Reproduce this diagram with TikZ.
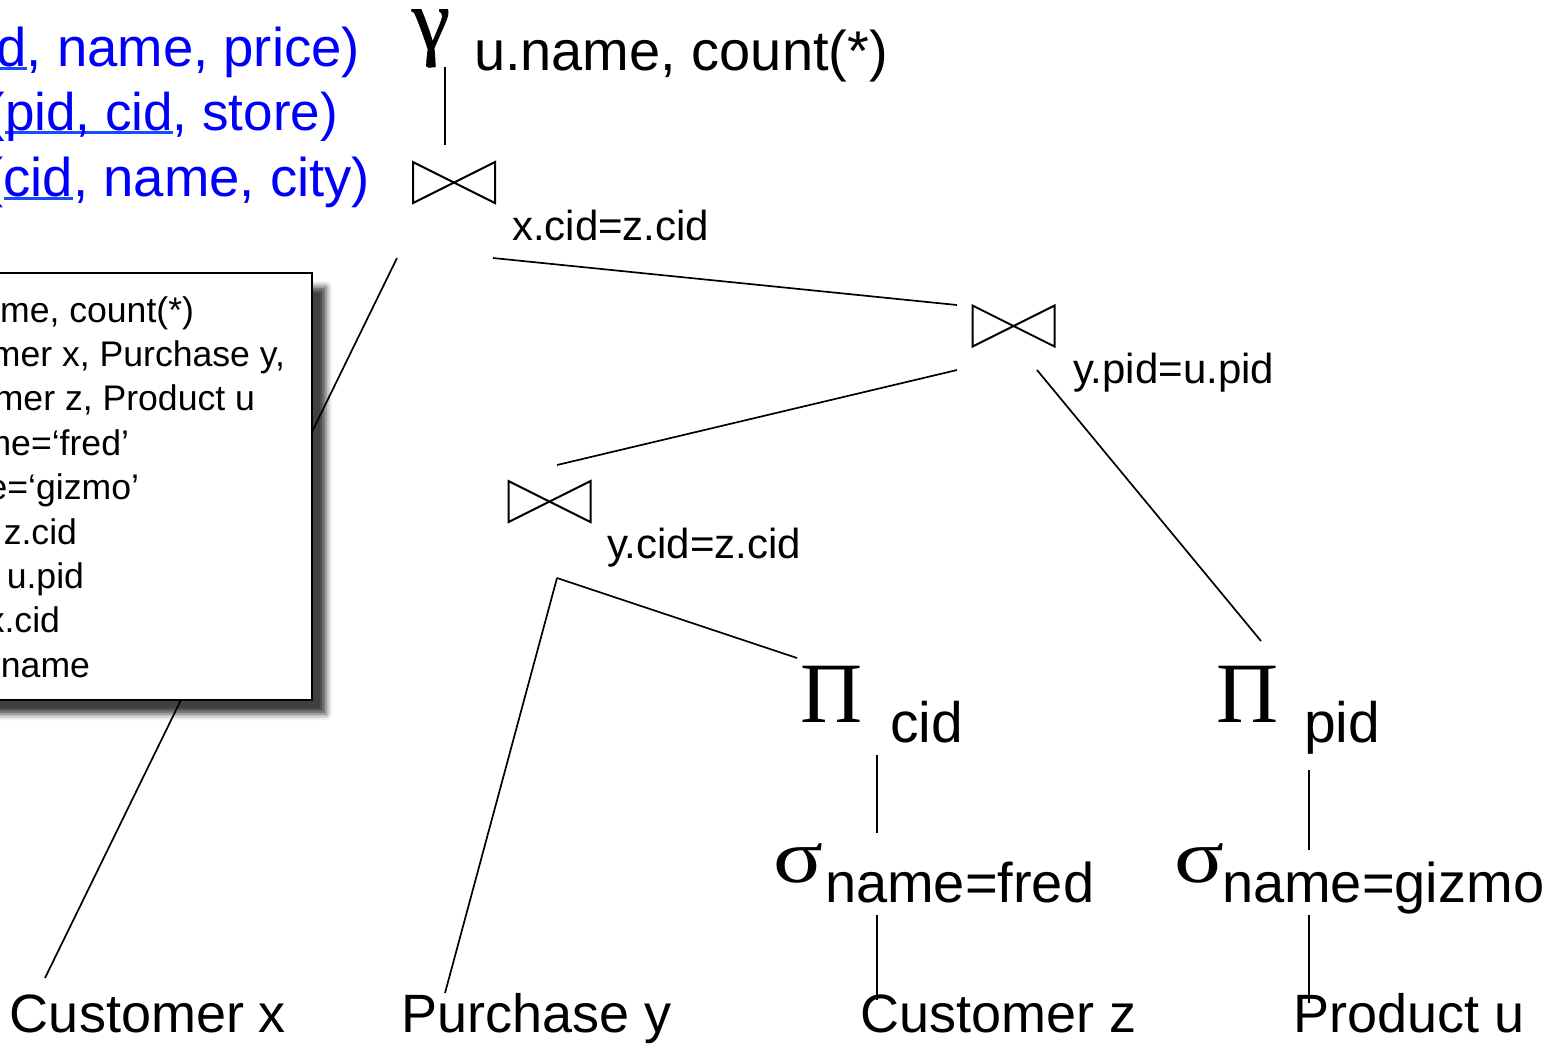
\documentclass[tikz,border=0pt]{standalone}
\usepackage{fontspec}
\usepackage{graphicx}
\setmainfont{Liberation Sans}
\newfontfamily\grkfont{Liberation Serif}
\newfontfamily\grkboldfont[FakeBold=0.9]{Liberation Serif}
\usetikzlibrary{shadows.blur}
\definecolor{schemablue}{RGB}{0,0,250}
\definecolor{keyline}{RGB}{25,75,255}
% underline for key attributes
\newcommand\keyul[1]{{\setbox0\hbox{#1}\rlap{\color{keyline}\rule[-2.2pt]{\wd0}{1.5pt}}\box0}}
% wide selection sigma
\newcommand\widesigma{\scalebox{1.22}[1]{σ}}

\begin{document}
\begin{tikzpicture}[x=0.5pt,y=-0.5pt,
  every node/.style={inner sep=0pt, outer sep=0pt},
  txt/.style={anchor=base west},
  lbl/.style={txt, font=\fontsize{21}{25}\selectfont},
  big/.style={txt, font=\fontsize{28}{34}\selectfont},
  sub/.style={txt, font=\fontsize{28.5}{34}\selectfont},
  grk/.style={txt, font=\grkfont\fontsize{43}{50}\selectfont},
  sig/.style={txt, font=\grkfont\fontsize{38}{44}\selectfont},
  leaf/.style={txt, font=\fontsize{27}{32}\selectfont},
  schema/.style={anchor=base east, text=schemablue, font=\fontsize{27.25}{32}\selectfont},
  sql/.style={anchor=base east, font=\fontsize{17.8}{21}\selectfont},
  joinbox/.style={minimum width=41pt, minimum height=20.5pt},
  tie/.style={line width=1pt, line join=miter},
  edge/.style={line width=0.85pt},
  sqlbox/.style={draw=black, line width=1pt, fill=white,
    blur shadow={shadow xshift=7pt, shadow yshift=-7pt,
      shadow blur radius=3pt, shadow opacity=75}}
]
\useasboundingbox (0,0) rectangle (1566,1046);
\clip (0,0) rectangle (1566,1046);

% ---- relation schemas ----
\node[schema] (s1) at (360,66)  {\keyul{d}, name, price)};
\node[schema, font=\fontsize{26.5}{32}\selectfont] (s2) at (338,130) {(\keyul{pid, cid}, store)};
\node[schema] (s3) at (370,196) {(\keyul{cid}, name, city)};

% ---- operator nodes ----
\node[txt, font=\grkboldfont\fontsize{43}{50}\selectfont, text height=0.5em, text depth=0.25em] (gam) at (412,49) {γ};
\node[big] (agg) at (474,70) {u.name, count(*)};

\node[joinbox] (j1) at (454,182.5) {};
\node[lbl] (l1) at (512,240) {x.cid=z.cid};
\node[joinbox] (j2) at (1013.5,326) {};
\node[lbl] (l2) at (1073,383) {y.pid=u.pid};
\node[joinbox] (j3) at (549.5,501.5) {};
\node[lbl] (l3) at (607,558) {y.cid=z.cid};

\foreach \j in {j1,j2,j3}
  \draw[tie] (\j.north west) -- (\j.south east) -- (\j.north east) -- (\j.south west) -- cycle;

\node[grk] (picid) at (800,722) {Π};
\node[sub] (tcid) at (890,742) {cid};
\node[grk] (pipid) at (1216,722) {Π};
\node[sub] (tpid) at (1304,742) {pid};

\node[sig] (sigf) at (773,882) {\widesigma};
\node[big] (tfred) at (825,902) {name=fred};
\node[sig] (sigg) at (1174,882) {\widesigma};
\node[big] (tgizmo) at (1222,902) {name=gizmo};

% ---- base relations ----
\node[leaf] (cx) at (10,1032) {Customer x};
\node[leaf] (py) at (401,1032) {Purchase y};
\node[leaf] (cz) at (860,1032) {Customer z};
\node[leaf] (pu) at (1293,1032) {Product u};

% ---- connector end points ----
\coordinate (gam-b) at (445,67);
\coordinate (j1-t)  at (445,145);
\coordinate (j1-l)  at (397,258);
\coordinate (j1-r)  at (493,258);
\coordinate (cx-t)  at (45,978);
\coordinate (j2-t)  at (957,305);
\coordinate (j2-l)  at (957,370);
\coordinate (j2-r)  at (1037,370);
\coordinate (j3-t)  at (557,465);
\coordinate (j3-b)  at (557,578);
\coordinate (py-t)  at (445,993);
\coordinate (picid-t) at (797,658);
\coordinate (pipid-t) at (1261,641);
\coordinate (picid-b) at (877,755);
\coordinate (sigf-t)  at (877,833);
\coordinate (sigf-b)  at (877,915);
\coordinate (cz-t)    at (877,1000);
\coordinate (pipid-b) at (1309,770);
\coordinate (sigg-t)  at (1309,850);
\coordinate (sigg-b)  at (1309,915);
\coordinate (pu-t)    at (1309,1003);

% ---- connectors ----
\draw[edge] (gam-b) -- (j1-t);
\draw[edge] (j1-l) -- (cx-t);
\draw[edge] (j1-r) -- (j2-t);
\draw[edge] (j2-l) -- (j3-t);
\draw[edge] (j2-r) -- (pipid-t);
\draw[edge] (j3-b) -- (py-t);
\draw[edge] (j3-b) -- (picid-t);
\draw[edge] (picid-b) -- (sigf-t);
\draw[edge] (sigf-b) -- (cz-t);
\draw[edge] (pipid-b) -- (sigg-t);
\draw[edge] (sigg-b) -- (pu-t);

% ---- SQL query callout ----
\node[sqlbox, anchor=north east, minimum width=171pt, minimum height=213.5pt] (sql) at (312,273) {};
\node[sql] (q1) at (194,322) {me, count(*)};
\node[sql] (q2) at (285,366) {mer x, Purchase y,};
\node[sql] (q3) at (255,410) {mer z, Product u};
\node[sql] (q4) at (129,455) {me=‘fred’};
\node[sql] (q5) at (139,499) {e=‘gizmo’};
\node[sql] (q6) at (77,544)  {z.cid};
\node[sql] (q7) at (84,588)  {u.pid};
\node[sql] (q8) at (60,632)  {x.cid};
\node[sql] (q9) at (90,677)  {name};
\end{tikzpicture}
\end{document}
